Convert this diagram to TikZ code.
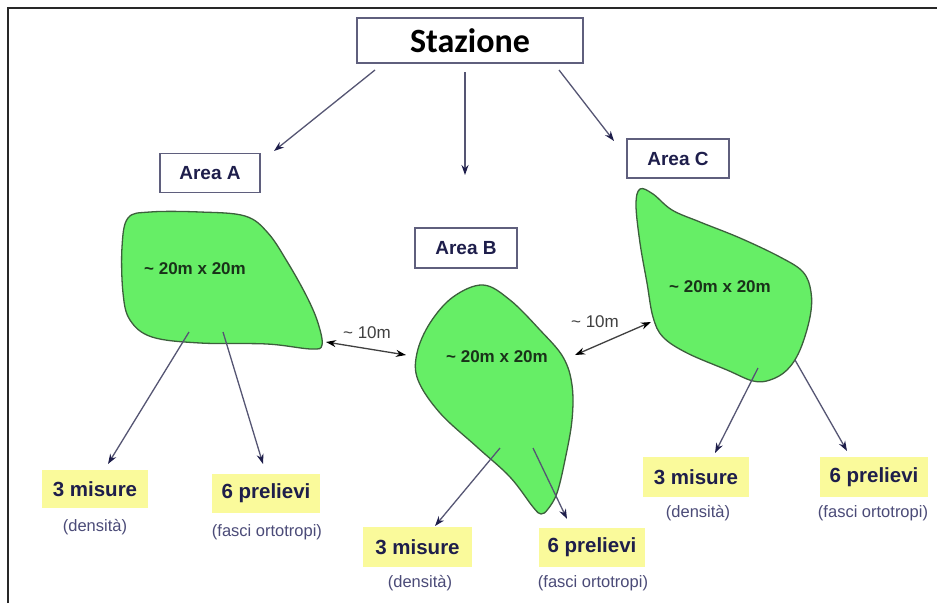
\documentclass[tikz,border=0pt]{standalone}
\usepackage{fontspec}
\setmainfont{Liberation Sans}
\newfontfamily\calib{Carlito}
\usetikzlibrary{arrows.meta}
\definecolor{navy}{RGB}{30,30,75}
\definecolor{linec}{RGB}{85,85,115}
\definecolor{boxb}{RGB}{95,95,125}
\definecolor{blobfill}{RGB}{102,238,102}
\definecolor{blobline}{RGB}{60,95,60}
\definecolor{yel}{RGB}{250,250,155}
\definecolor{txtgreen}{RGB}{25,50,25}
\definecolor{subtxt}{RGB}{75,75,120}
\definecolor{frame}{RGB}{40,40,40}
\tikzset{
  areabox/.style={draw=boxb, line width=1.5pt, fill=white, minimum width=100pt, minimum height=39pt, inner sep=0pt,
    text=navy, font=\bfseries\fontsize{19}{22}\selectfont},
  yelbox/.style={fill=yel, minimum height=39pt, inner sep=0pt, text=navy, font=\bfseries\fontsize{20.5}{24}\selectfont},
  subl/.style={text=subtxt, font=\fontsize{16.5}{19}\selectfont, inner sep=0pt},
  blob/.style={draw=blobline, line width=1.3pt, fill=blobfill},
  blobtxt/.style={text=txtgreen, font=\bfseries\fontsize{17}{20}\selectfont, inner sep=0pt},
  dist/.style={text=black!75, font=\fontsize{17}{20}\selectfont, inner sep=0pt},
  arr/.style={draw=linec, line width=1.3pt, -{Stealth[length=10pt,width=7pt,color=navy]}},
  dbl/.style={draw=black!75, line width=1.3pt, {Stealth[length=10pt,width=7pt,color=black]}-{Stealth[length=10pt,width=7pt,color=black]}}
}
\begin{document}
\begin{tikzpicture}[x=1pt,y=-1pt]
\useasboundingbox (0,0) rectangle (937,603);
\fill[white] (0,0) rectangle (937,603);
\draw[frame, line width=2pt] (8,603) -- (8,8) -- (937,8);

% top node
\node[draw=boxb, line width=1.5pt, fill=white, minimum width=226pt, minimum height=45pt, inner sep=0pt]
  (st) at (470,40.5) {\calib\bfseries\fontsize{34}{40}\selectfont Stazione};

% area boxes
\node[areabox] (areaA) at (210,173) {Area A};
\node[areabox, minimum width=102pt, minimum height=40pt] (areaB) at (466,248) {Area B};
\node[areabox, minimum width=102pt] (areaC) at (678,158.5) {Area C};

% arrows from station
\coordinate (s1) at (375,70);  \coordinate (e1) at (274,151);
\coordinate (s2) at (465,72);  \coordinate (e2) at (465,175);
\coordinate (s3) at (559,70);  \coordinate (e3) at (614,141);
\draw[arr] (s1) -- (e1);
\draw[arr] (s2) -- (e2);
\draw[arr] (s3) -- (e3);

% blobs
\draw[blob] plot[smooth cycle, tension=0.6] coordinates {
 (128,218) (150,212) (200,212) (245,216) (268,233) (288,263) (307,297) (318,323) (322,345) (311,349) (267,344) (200,343) (152,337) (130,320) (123,293) (122,247)};
\draw[blob] plot[smooth cycle, tension=0.6] coordinates {
 (483,285) (510,300) (540,330) (563,357) (572,385) (572,420) (565,460) (557,493) (548,509) (541,514) (533,507) (510,477) (477,447) (440,413) (418,380) (417,353) (430,323) (453,297)};
\draw[blob] plot[smooth cycle, tension=0.6] coordinates {
 (640,189) (653,194) (672,210) (700,222) (740,238) (780,257) (803,272) (811,292) (810,317) (800,350) (787,370) (770,380) (753,381) (727,370) (687,353) (663,337) (653,317) (647,283) (640,243) (636,205)};

\node[blobtxt] (tA) at (195,269) {\textasciitilde{} 20m x 20m};
\node[blobtxt] (tB) at (497,357) {\textasciitilde{} 20m x 20m};
\node[blobtxt] (tC) at (720,287) {\textasciitilde{} 20m x 20m};

% distances
\coordinate (dA1) at (326,342); \coordinate (dA2) at (406,355);
\coordinate (dB1) at (575,355); \coordinate (dB2) at (651,322);
\draw[dbl] (dA1) -- (dA2);
\draw[dbl] (dB1) -- (dB2);
\node[dist] (d1) at (367,333) {\textasciitilde{} 10m};
\node[dist] (d2) at (595,322) {\textasciitilde{} 10m};

% yellow boxes
\node[yelbox, minimum width=106pt, minimum height=38pt] (mA) at (95,489) {3 misure};
\node[yelbox, minimum width=108pt] (pA) at (266,493.5) {6 prelievi};
\node[yelbox, minimum width=109pt, minimum height=40pt] (mB) at (417.5,547) {3 misure};
\node[yelbox, minimum width=106pt] (pB) at (592,547.5) {6 prelievi};
\node[yelbox, minimum width=106pt, minimum height=40pt] (mC) at (696,477) {3 misure};
\node[yelbox, minimum width=108pt, minimum height=40pt] (pC) at (874,477) {6 prelievi};

\node[subl] (smA) at (95,527) {(densità)};
\node[subl] (spA) at (267,532) {(fasci ortotropi)};
\node[subl] (smB) at (420,583) {(densità)};
\node[subl] (spB) at (593,583) {(fasci ortotropi)};
\node[subl] (smC) at (698,513) {(densità)};
\node[subl] (spC) at (873,513) {(fasci ortotropi)};

% arrows from blobs
\coordinate (a1) at (189,332); \coordinate (a1e) at (108,464);
\coordinate (a2) at (223,332); \coordinate (a2e) at (263,464);
\coordinate (b1) at (500,448); \coordinate (b1e) at (435,526);
\coordinate (b2) at (533,448); \coordinate (b2e) at (567,519);
\coordinate (c1) at (758,368); \coordinate (c1e) at (715,453);
\coordinate (c2) at (795,360); \coordinate (c2e) at (847,451);
\draw[arr] (a1) -- (a1e);
\draw[arr] (a2) -- (a2e);
\draw[arr] (b1) -- (b1e);
\draw[arr] (b2) -- (b2e);
\draw[arr] (c1) -- (c1e);
\draw[arr] (c2) -- (c2e);
\end{tikzpicture}
\end{document}
